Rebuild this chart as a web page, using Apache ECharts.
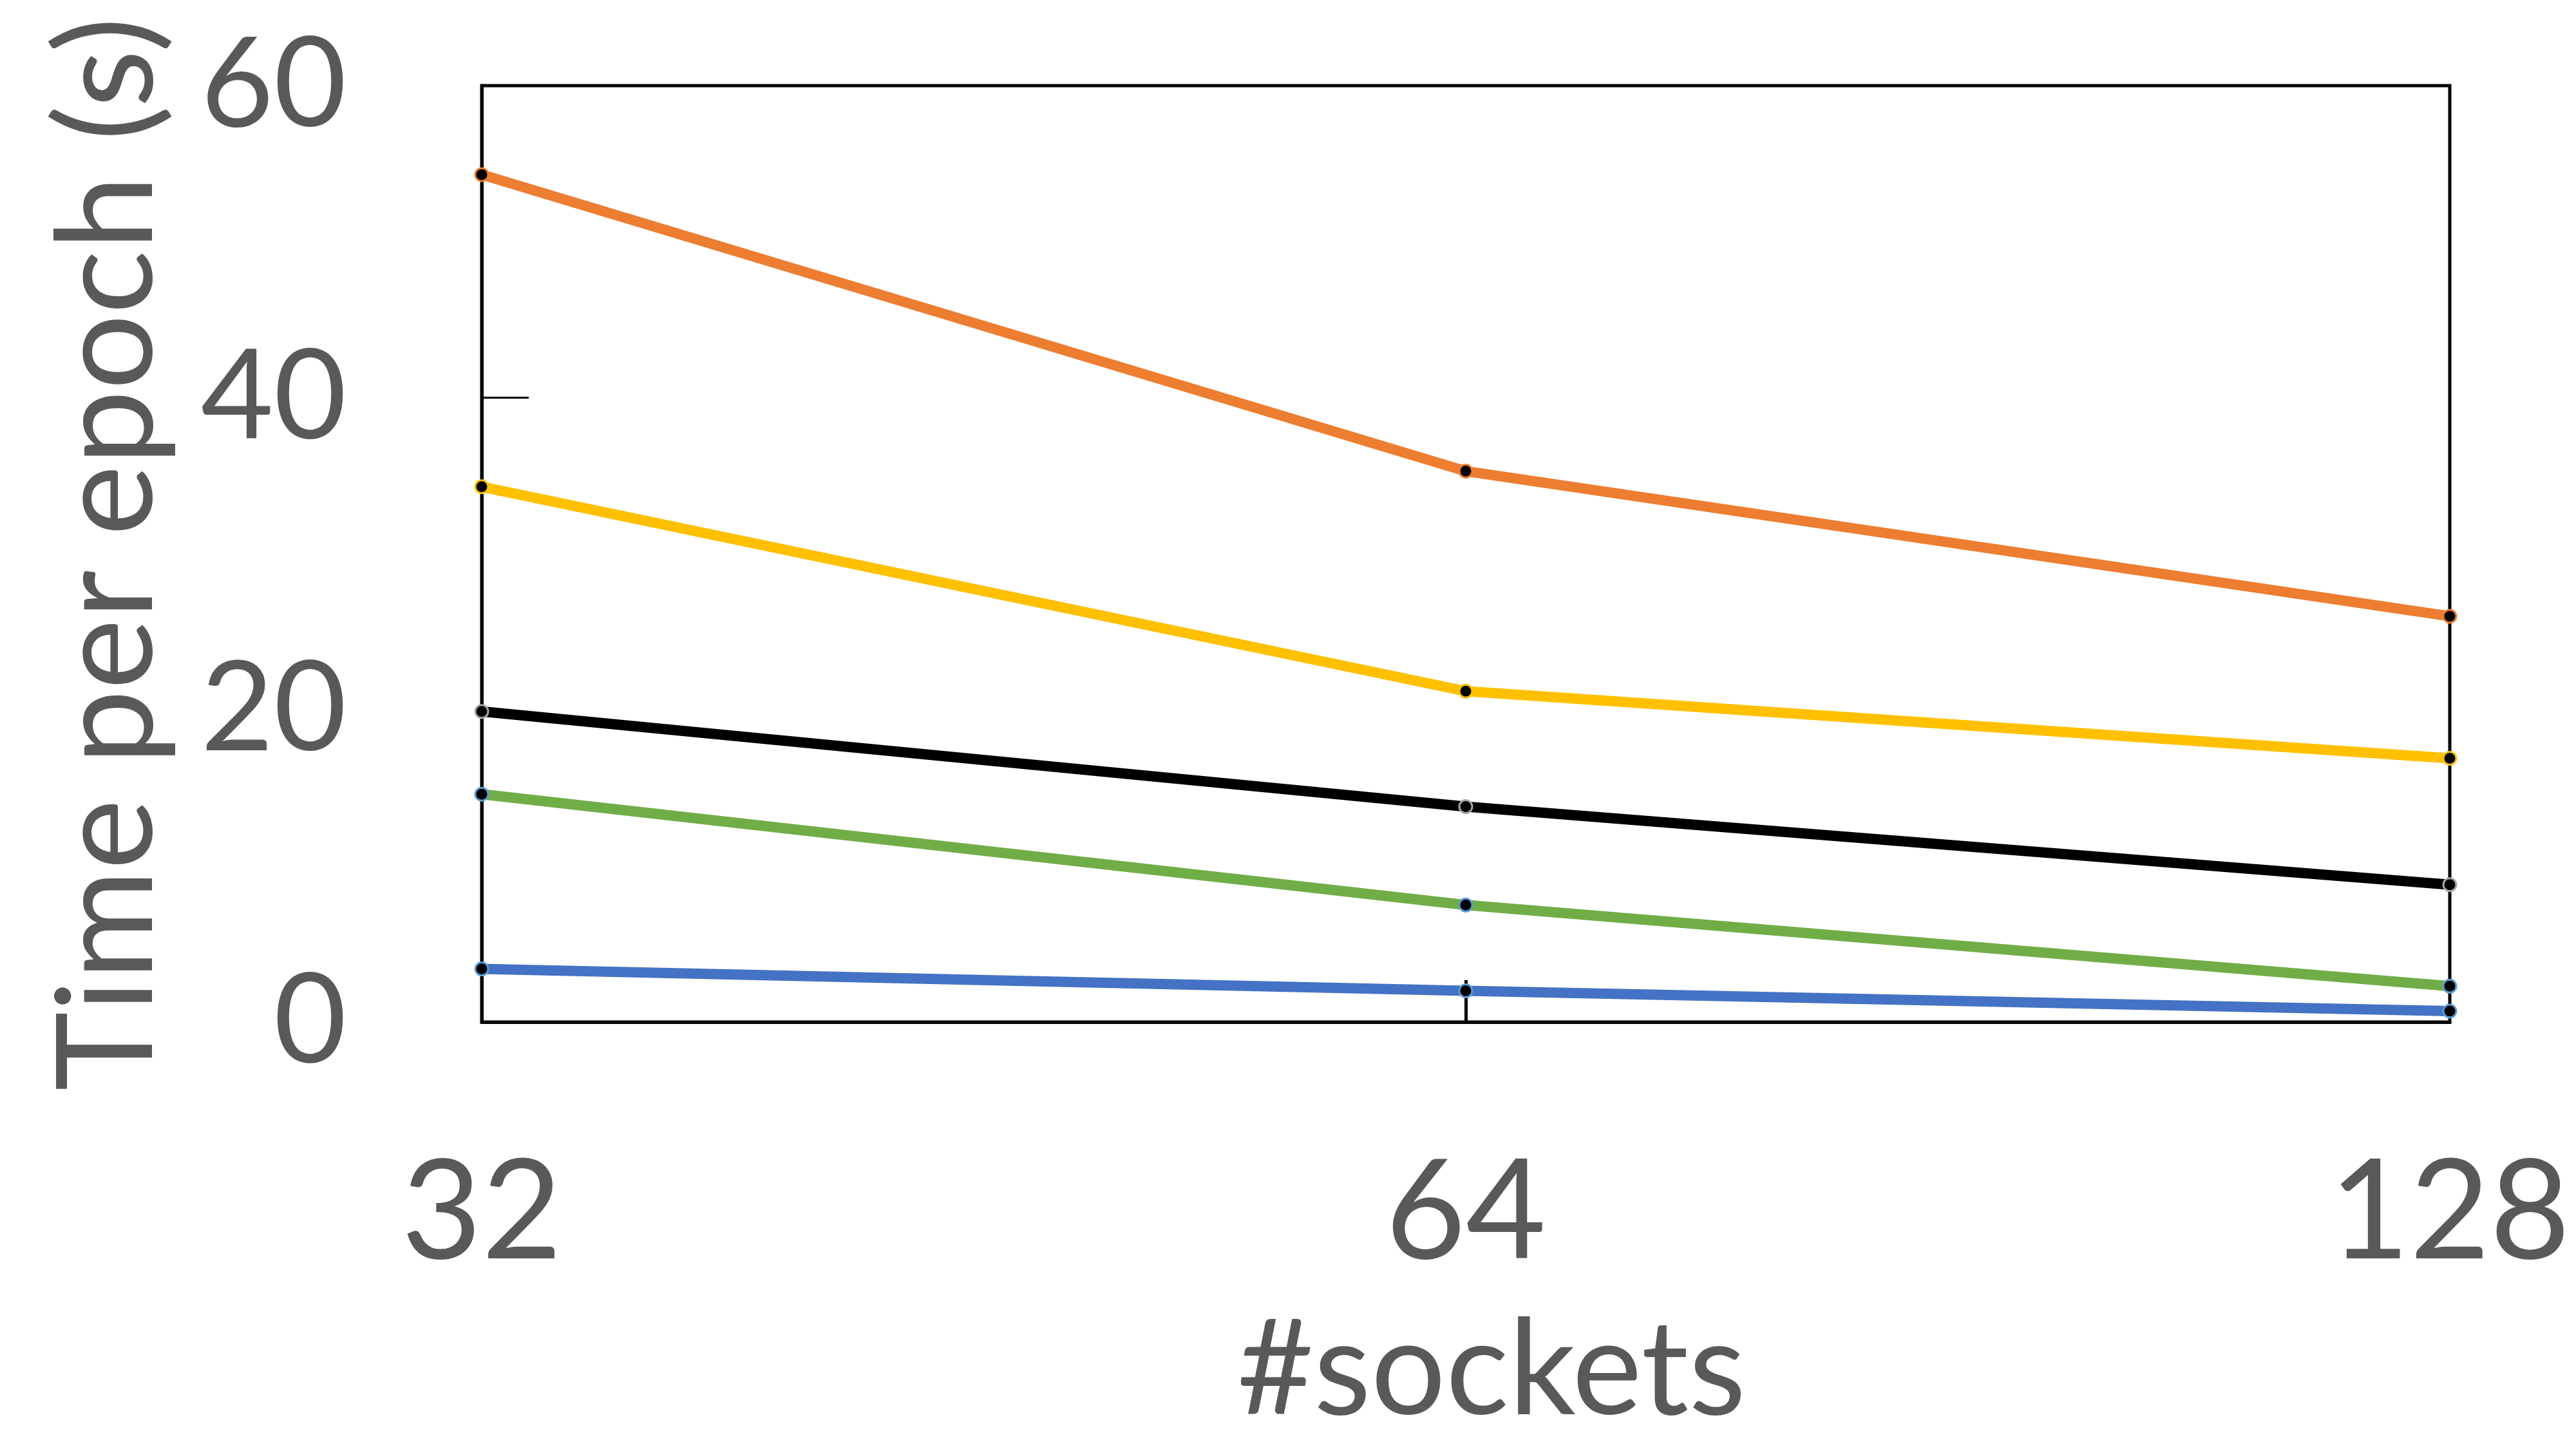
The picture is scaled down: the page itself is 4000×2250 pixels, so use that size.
<!DOCTYPE html>
<html>
<head>
<meta charset="utf-8">
<script src="https://cdn.jsdelivr.net/npm/echarts@6/dist/echarts.min.js"></script>
<style>
  html, body { margin: 0; padding: 0; background: #fff; }
  #chart { width: 4000px; height: 2250px; }
</style>
</head>
<body>
<div id="chart"></div>
<script>
// 数据
var sockets = ['32', '64', '128'];
var orangeVals = [54.3, 35.3, 26.0];
var yellowVals = [34.3, 21.2, 16.9];
var blackVals = [19.9, 13.8, 8.8];
var greenVals = [14.6, 7.5, 2.3];
var blueVals = [3.4, 2.0, 0.7];
var yTicks = [0, 20, 40, 60];

var textColor = '#595959';
var font = 'Lato';

function mkSeries(vals, color, markBorder) {
    return {
        type: 'line',
        data: vals,
        yAxisIndex: 0,
        symbol: 'circle',
        symbolSize: 20,
        lineStyle: { color: color, width: 16 },
        itemStyle: { color: '#000', borderColor: markBorder, borderWidth: 3 },
        z: 3
    };
}

var chart = echarts.init(document.getElementById('chart'));
var option = {
    backgroundColor: '#fff',
    animation: false,
    grid: {
        left: 748, right: 196, top: 133, bottom: 663,
        show: true, borderColor: '#000', borderWidth: 5
    },
    xAxis: {
        type: 'category',
        data: sockets,
        boundaryGap: false,
        axisLine: { lineStyle: { color: '#000', width: 5 } },
        axisTick: {
            show: true, inside: true, length: 65,
            interval: function (i) { return i === 1; },
            lineStyle: { color: '#000', width: 5 }
        },
        axisLabel: {
            color: textColor, fontFamily: font, fontSize: 215, margin: 190
        },
        name: '#sockets',
        nameLocation: 'middle',
        nameGap: 440,
        nameTextStyle: { color: textColor, fontFamily: font, fontSize: 205, padding: [0, 0, 0, 80] }
    },
    yAxis: [{
        type: 'value',
        min: yTicks[0], max: yTicks[yTicks.length - 1], interval: 20,
        splitLine: { show: false },
        axisLine: { show: true, lineStyle: { color: '#000', width: 5 } },
        axisTick: { show: false },
        axisLabel: {
            color: textColor, fontFamily: font, fontSize: 195, margin: 210
        },
        name: 'Time per epoch (s)',
        nameLocation: 'middle',
        nameGap: 475,
        nameTextStyle: { color: textColor, fontFamily: font, fontSize: 208 }
    }, {
        // 只画 40 处的内刻度
        type: 'value',
        position: 'left',
        min: 0, max: 60, interval: 40,
        splitLine: { show: false },
        axisLine: { show: false },
        axisLabel: { show: false },
        axisTick: { show: true, inside: true, length: 73, lineStyle: { color: '#000', width: 3 } }
    }],
    series: [
        mkSeries(orangeVals, '#ED7D31', '#ED7D31'),
        mkSeries(yellowVals, '#FFC000', '#FFC000'),
        mkSeries(blackVals, '#000000', '#A5A5A5'),
        mkSeries(greenVals, '#70AD47', '#5B9BD5'),
        mkSeries(blueVals, '#4472C4', '#5B9BD5')
    ]
};
chart.setOption(option);
</script>
</body>
</html>
